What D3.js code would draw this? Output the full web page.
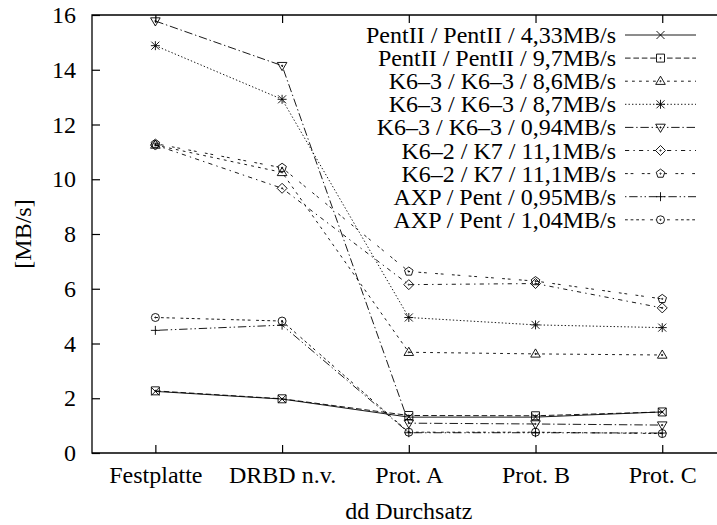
<!DOCTYPE html>
<html><head><meta charset="utf-8">
<script src="https://cdn.jsdelivr.net/npm/d3@7"></script>
<style>
html,body{margin:0;padding:0;background:#fff;}
svg text{font-family:"Liberation Serif","Times New Roman",Times,serif;fill:#000;}
</style></head>
<body><svg id="chart" width="717" height="525"></svg>
<script>
const categories = ["Festplatte","DRBD n.v.","Prot. A","Prot. B","Prot. C"];
const seriesNames = [
  "PentII / PentII / 4,33MB/s",
  "PentII / PentII / 9,7MB/s",
  "K6\u20133 / K6\u20133 / 8,6MB/s",
  "K6\u20133 / K6\u20133 / 8,7MB/s",
  "K6\u20133 / K6\u20133 / 0,94MB/s",
  "K6\u20132 / K7 / 11,1MB/s",
  "K6\u20132 / K7 / 11,1MB/s",
  "AXP / Pent / 0,95MB/s",
  "AXP / Pent / 1,04MB/s"
];
const s1 = [2.25, 1.97, 1.31, 1.31, 1.50];
const s2 = [2.27, 1.98, 1.37, 1.36, 1.50];
const s3 = [11.25, 10.25, 3.68, 3.62, 3.58];
const s4 = [14.88, 12.92, 4.95, 4.68, 4.58];
const s5 = [15.78, 14.15, 1.09, 1.06, 1.02];
const s6 = [11.25, 9.67, 6.15, 6.19, 5.30];
const s7 = [11.30, 10.42, 6.63, 6.28, 5.63];
const s8 = [4.48, 4.67, 0.74, 0.74, 0.73];
const s9 = [4.95, 4.82, 0.76, 0.76, 0.71];
const allSeries = [s1,s2,s3,s4,s5,s6,s7,s8,s9];
const yTicks = [0,2,4,6,8,10,12,14,16];
const markerTypes = ["cross","box","triangle","star","invtriangle","diamond","pentagon","plus","circle"];
const dl = 1.4;
const dashPatterns = [[],[4,2],[2,3],[1,1.5],[6,2,1,2],[3,3,1,3],[2,2,2,6],[1,2,6,2,1,2],[2,2,2,2,2,2,2,4]];

const svg = d3.select("#chart");
const L = 92, T = 15, B = 453, R = 725.6;
const x = d3.scalePoint().domain(categories).range([L, R]).padding(0.5);
const y = d3.scaleLinear().domain([0,16]).range([B, T]);
const FS = 24;

// frame
const g = svg.append("g");
g.append("path").attr("d", `M${R},${T}H${L}V${B}H${R}V${T}`).attr("fill","none").attr("stroke","#000").attr("stroke-width",1.3);

g.append("g").attr("transform",`translate(${L},0)`)
  .call(d3.axisLeft(y).tickValues(yTicks).tickSize(-8).tickSizeOuter(0).tickPadding(16).tickFormat(d3.format("d")));
g.append("g").attr("transform",`translate(0,${B})`)
  .call(d3.axisBottom(x).tickSize(-8).tickSizeOuter(0).tickPadding(13));
g.append("g").attr("transform",`translate(0,${T})`)
  .call(d3.axisTop(x).tickSize(-8).tickSizeOuter(0).tickFormat(""));
g.append("g").attr("transform",`translate(${R},0)`)
  .call(d3.axisRight(y).tickValues(yTicks).tickSize(-8).tickSizeOuter(0).tickFormat(""));
g.selectAll(".domain").remove();
g.selectAll(".tick line").attr("stroke","#000").attr("stroke-width",1.2);
g.selectAll(".tick text").attr("font-size",FS).attr("fill","#000");

// axis titles
svg.append("text").attr("x", (x(categories[0])+x(categories[4]))/2).attr("y", 519)
  .attr("text-anchor","middle").attr("font-size",FS).text("dd Durchsatz");
svg.append("text").attr("transform",`translate(31,${(T+B)/2}) rotate(-90)`)
  .attr("text-anchor","middle").attr("font-size",FS).text("[MB/s]");

function markerPath(type, cx, cy){
  const p = d3.path();
  const s = 4;
  switch(type){
    case "cross": p.moveTo(cx-s,cy-s);p.lineTo(cx+s,cy+s);p.moveTo(cx-s,cy+s);p.lineTo(cx+s,cy-s);break;
    case "plus": p.moveTo(cx-s-0.5,cy);p.lineTo(cx+s+0.5,cy);p.moveTo(cx,cy-s-0.5);p.lineTo(cx,cy+s+0.5);break;
    case "star": p.moveTo(cx-s,cy-s);p.lineTo(cx+s,cy+s);p.moveTo(cx-s,cy+s);p.lineTo(cx+s,cy-s);
                 p.moveTo(cx-s-0.5,cy);p.lineTo(cx+s+0.5,cy);p.moveTo(cx,cy-s-0.5);p.lineTo(cx,cy+s+0.5);break;
    case "box": p.rect(cx-s,cy-s,2*s,2*s);break;
    case "triangle": p.moveTo(cx,cy-s-1);p.lineTo(cx+s+0.8,cy+s-0.8);p.lineTo(cx-s-0.8,cy+s-0.8);p.closePath();break;
    case "invtriangle": p.moveTo(cx,cy+s+1);p.lineTo(cx+s+0.8,cy-s+0.8);p.lineTo(cx-s-0.8,cy-s+0.8);p.closePath();break;
    case "diamond": p.moveTo(cx,cy-s-1);p.lineTo(cx+s+1,cy);p.lineTo(cx,cy+s+1);p.lineTo(cx-s-1,cy);p.closePath();break;
    case "pentagon": {
      const r = s+0.5;
      for(let i=0;i<5;i++){const a=-Math.PI/2+i*2*Math.PI/5;const px=cx+r*Math.cos(a),py=cy+r*Math.sin(a);if(i===0)p.moveTo(px,py);else p.lineTo(px,py);}
      p.closePath();break;}
    case "circle": p.moveTo(cx+s,cy);p.arc(cx,cy,s,0,2*Math.PI);break;
  }
  if(["box","triangle","invtriangle","diamond","pentagon","circle"].includes(type)){
    p.moveTo(cx+0.6,cy);p.arc(cx,cy,0.6,0,2*Math.PI);
  }
  return p.toString();
}

const line = d3.line().x((d,i)=>x(categories[i])).y(d=>y(d));
const plot = svg.append("g");
allSeries.forEach((vals, si)=>{
  const dash = dashPatterns[si].map(v=>v*dl).join(",");
  plot.append("path").datum(vals).attr("d", line).attr("fill","none")
    .attr("stroke","#000").attr("stroke-width",0.9).attr("stroke-dasharray", dash || null);
  plot.selectAll(null).data(vals).enter().append("path")
    .attr("d",(d,i)=>markerPath(markerTypes[si], x(categories[i]), y(d)))
    .attr("fill","none").attr("stroke","#000").attr("stroke-width",0.9);
});

// legend
const leg = svg.append("g");
seriesNames.forEach((name, si)=>{
  const cy = 35 + si*23.1;
  leg.append("text").attr("x",616).attr("y",cy+8).attr("text-anchor","end").attr("font-size",FS).text(name);
  const dash = dashPatterns[si].map(v=>v*dl).join(",");
  leg.append("path").attr("d",`M625,${cy}H696`).attr("fill","none").attr("stroke","#000")
    .attr("stroke-width",0.9).attr("stroke-dasharray",dash||null);
  leg.append("path").attr("d",markerPath(markerTypes[si],660.5,cy)).attr("fill","#fff").attr("stroke","#000").attr("stroke-width",0.9);
});
</script></body></html>
